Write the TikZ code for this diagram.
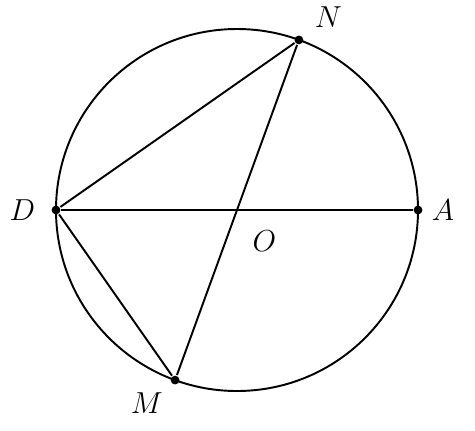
\documentclass[tikz,border=0pt]{standalone}
\usetikzlibrary{calc, positioning}

\begin{document}
\begin{tikzpicture}[x=0.02cm, y=0.02cm, line width=1.1pt]
                    \tikzstyle{every node}=[draw = none, fill = none, font=\fontsize{19}{21}\selectfont]
                    \tikzstyle{pnt}=[circle, fill = black, inner sep = 0pt, minimum size = 5pt]
                    \useasboundingbox (-237,-220) rectangle (238,210);
                    \coordinate (O) at (0,0);
                    \draw (O) circle (181);
                    \node[pnt] (D) at (180:181) {};
                    \node[pnt] (A) at (0:181) {};
                    \node[pnt] (N) at (70:181) {};
                    \node[pnt] (M) at (250:181) {};
                    \draw (D) -- (A);
                    \draw (N) -- (M);
                    \draw (D) -- (N);
                    \draw (D) -- (M);
                    \node[left = 5pt of D] (lD) {$D$};
                    \node[right = 1pt of A] (lA) {$A$};
                    \node[above right = 1pt and 3pt of N] (lN) {$N$};
                    \node[below left = 1pt and 1pt of M] (lM) {$M$};
                    \node[below right = 8pt and 5pt of O] (lO) {$O$};
\end{tikzpicture}
\end{document}
